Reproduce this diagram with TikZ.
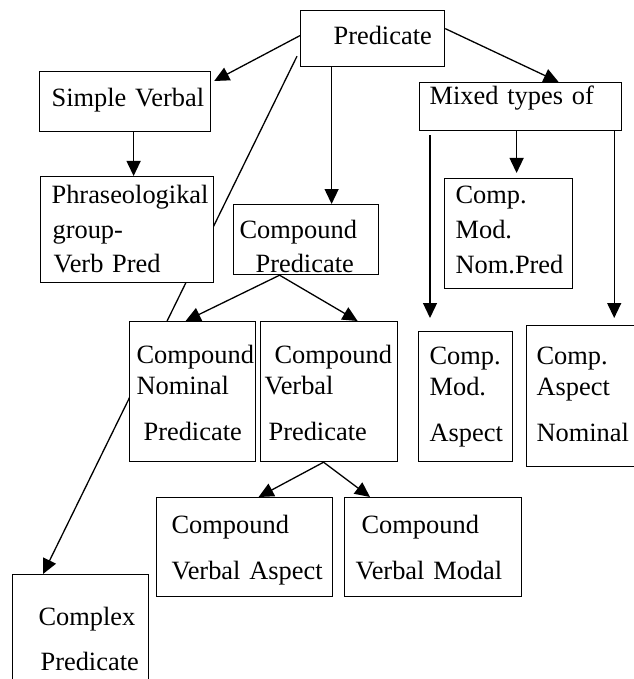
\documentclass[tikz,border=0pt]{standalone}
\usepackage{fontspec}
\setmainfont{Liberation Serif}
\usetikzlibrary{arrows.meta,backgrounds}
\newcommand{\ind}[1]{\hspace*{#1pt}}

\begin{document}
\begin{tikzpicture}[x=1pt,y=-1pt,>={Triangle[length=15pt,width=14pt]},
    box/.style={draw,line width=1.2pt,fill=white,anchor=north west,inner sep=0pt,
      align=left,font=\fontsize{26.4}{31}\selectfont},
    arr/.style={->,line width=1.3pt}]
  \useasboundingbox (0,0) rectangle (633,679);
  \node[box,text width=144pt,text height=34pt,text depth=22pt] (pred) at (300,10) {\ind{33}Predicate};
  \node[box,text width=171pt,text height=35pt,text depth=25pt] (simp) at (39,71) {\ind{12}Simple Verbal};
  \node[box,text width=173pt,text height=27pt,text depth=79pt] (phra) at (40,176)
    {\ind{11}Phraseologikal\\[3.5pt]\ind{12}group-\\[3.5pt]\ind{13}Verb Pred};
  \node[box,text width=145pt,text height=34pt,text depth=36pt] (cpred) at (233,204)
    {\ind{6}Compound\\[3pt]\ind{22}Predicate};
  \node[box,text width=202pt,text height=22pt,text depth=26pt] (mixd) at (419,82) {\ind{10}Mixed types of};
  \node[box,text width=128pt,text height=25pt,text depth=85pt] (cmnp) at (444,178)
    {\ind{11}Comp.\\[4pt]\ind{11}Mod.\\[4pt]\ind{11}Nom.Pred};
  \node[box,text width=126pt,text height=42pt,text depth=98pt] (cnom) at (129,321)
    {\ind{7}Compound\\\ind{7}Nominal\\[15pt]\ind{14}Predicate};
  \node[box,text width=137pt,text height=42pt,text depth=98pt] (ccvp) at (260,321)
    {\ind{14}Compound\\\ind{4}Verbal\\[15pt]\ind{8}Predicate};
  \node[box,text width=94pt,text height=33pt,text depth=97pt] (cmas) at (418,331)
    {\ind{11}Comp.\\\ind{11}Mod.\\[15pt]\ind{11}Aspect};
  \node[box,text width=125pt,text height=39pt,text depth=102pt] (casn) at (526,325)
    {\ind{10}Comp.\\\ind{10}Aspect\\[15pt]\ind{10}Nominal};
  \node[box,text width=176pt,text height=36pt,text depth=63pt] (cva) at (156,497)
    {\ind{15}Compound\\[15pt]\ind{15}Verbal Aspect};
  \node[box,text width=177pt,text height=36pt,text depth=63pt] (cvm) at (344,497)
    {\ind{17}Compound\\[15pt]\ind{11}Verbal Modal};
  \node[box,text width=136pt,text height=51pt,text depth=80pt] (cplx) at (12,574)
    {\ind{26}Complex\\[14pt]\ind{28}Predicate};
  \begin{scope}[on background layer]
    \draw[arr] ([shift={(-3pt,11pt)}]pred.south west) -- ([xshift=31pt]cplx.north west);
  \end{scope}
  \draw[arr] ([yshift=3pt]pred.west) -- ([shift={(3pt,-10pt)}]simp.north east);
  \draw[arr] ([xshift=8.5pt]simp.south) -- ([xshift=8.5pt]simp.south |- phra.north);
  \draw[arr] ([xshift=-41pt]pred.south) -- ([xshift=-41pt]pred.south |- cpred.north);
  \draw[arr] ([yshift=10pt]pred.east) -- ([xshift=38pt]mixd.north);
  \draw[arr,shorten >=5pt] ([xshift=-4pt]mixd.south) -- ([xshift=-4pt]mixd.south |- cmnp.north);
  \draw[arr,shorten <=4pt,shorten >=13pt] ([xshift=11pt]mixd.south west) -- ([xshift=11pt]mixd.south west |- cmas.north);
  \draw[arr,shorten >=7pt] ([xshift=-8pt]mixd.south east) -- ([xshift=-8pt]mixd.south east |- casn.north);
  \draw[arr] ([xshift=-26.5pt]cpred.south) -- ([xshift=-7pt]cnom.north);
  \draw[arr] ([xshift=-26.5pt]cpred.south) -- ([xshift=28.5pt]ccvp.north);
  \draw[arr] ([xshift=-5.5pt]ccvp.south) -- ([xshift=14pt]cva.north);
  \draw[arr] ([xshift=-5.5pt]ccvp.south) -- ([xshift=26pt]cvm.north west);
\end{tikzpicture}
\end{document}
